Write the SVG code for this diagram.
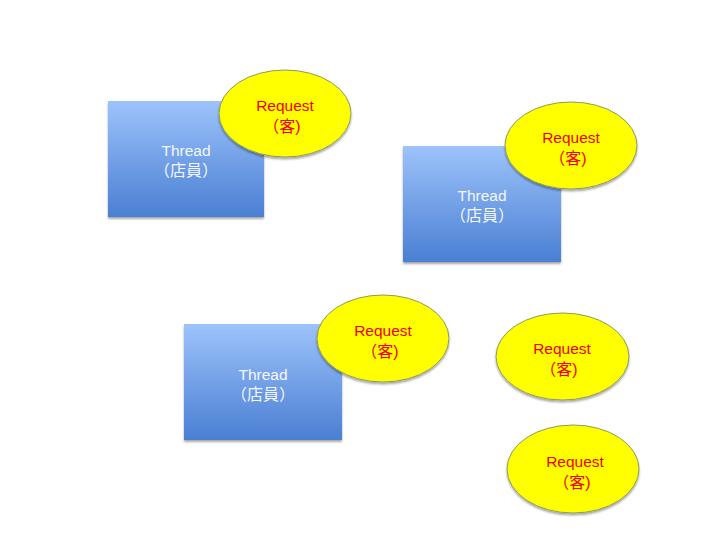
<svg xmlns="http://www.w3.org/2000/svg" width="720" height="540" viewBox="0 0 720 540">
<defs>
<linearGradient id="blue" x1="0" y1="0" x2="0" y2="1">
<stop offset="0" stop-color="#9dc3fb"/>
<stop offset="1" stop-color="#4a7fd3"/>
</linearGradient>
<filter id="sh" x="-10%" y="-10%" width="130%" height="130%">
<feGaussianBlur in="SourceAlpha" stdDeviation="1.2"/>
<feOffset dx="0" dy="2" result="b"/>
<feComponentTransfer><feFuncA type="linear" slope="0.35"/></feComponentTransfer>
<feMerge><feMergeNode/><feMergeNode in="SourceGraphic"/></feMerge>
</filter>
</defs>
<style>
.thread{fill:url(#blue);filter:url(#sh)}
.req{fill:#ffff00;stroke:#8c9a5e;stroke-width:1;filter:url(#sh)}
.tt{font-family:"Liberation Sans","Noto Sans CJK JP",sans-serif;font-size:15.5px;fill:#f4f7ff;text-anchor:middle}
.rt{font-family:"Liberation Sans","Noto Sans CJK JP",sans-serif;font-size:15.5px;fill:#f00000;text-anchor:middle}
.ck{font-size:16px}
</style>
<rect width="720" height="540" fill="#ffffff"/>
<g id="connectors"/>
<g id="thread1">
<rect class="thread" x="108" y="101" width="156" height="116"/>
<text class="tt" x="186" y="156">Thread</text>
<text class="tt ck" x="186" y="176">（店員）</text>
</g>
<g id="request1">
<ellipse class="req" cx="285" cy="113.5" rx="66" ry="43.5"/>
<text class="rt" x="285" y="111">Request</text>
<text class="rt ck" x="282" y="132">（客)</text>
</g>
<g id="thread2">
<rect class="thread" x="403" y="146" width="158" height="116"/>
<text class="tt" x="482" y="201">Thread</text>
<text class="tt ck" x="482" y="221">（店員）</text>
</g>
<g id="request2">
<ellipse class="req" cx="571" cy="145.5" rx="66" ry="43.5"/>
<text class="rt" x="571" y="143">Request</text>
<text class="rt ck" x="568" y="164">（客)</text>
</g>
<g id="thread3">
<rect class="thread" x="184" y="324" width="158" height="116"/>
<text class="tt" x="263" y="380">Thread</text>
<text class="tt ck" x="263" y="400">（店員）</text>
</g>
<g id="request3">
<ellipse class="req" cx="383" cy="338.5" rx="66" ry="43.5"/>
<text class="rt" x="383" y="336">Request</text>
<text class="rt ck" x="380" y="357">（客)</text>
</g>
<g id="request4">
<ellipse class="req" cx="562.5" cy="356.5" rx="66.5" ry="43.5"/>
<text class="rt" x="562" y="354">Request</text>
<text class="rt ck" x="559" y="375">（客)</text>
</g>
<g id="request5">
<ellipse class="req" cx="573" cy="469" rx="66" ry="44"/>
<text class="rt" x="575" y="467">Request</text>
<text class="rt ck" x="572" y="488">（客)</text>
</g>
</svg>
